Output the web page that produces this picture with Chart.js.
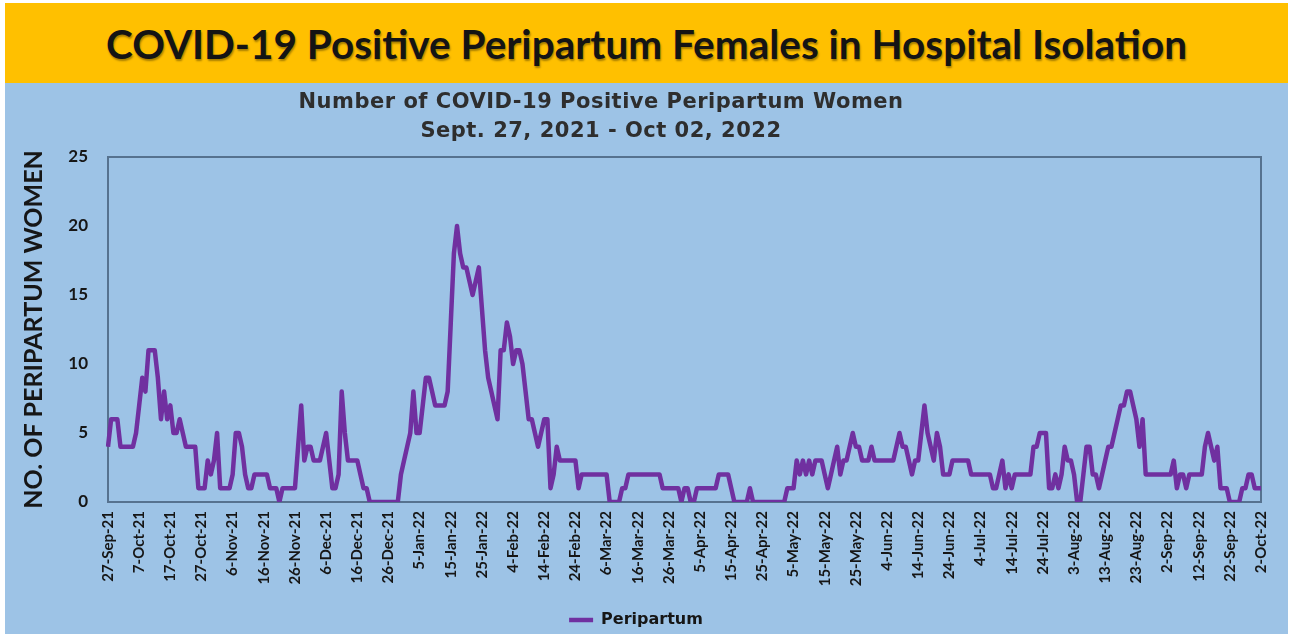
<!DOCTYPE html>
<html>
<head>
<meta charset="utf-8">
<title>COVID-19 Positive Peripartum Females in Hospital Isolation</title>
<script src="https://cdn.jsdelivr.net/npm/chart.js@4.4.1/dist/chart.umd.min.js"></script>
<style>
  html, body { margin: 0; padding: 0; background: #ffffff; width: 1293px; height: 637px; overflow: hidden; font-family: Lato, "Open Sans", sans-serif; }
  #banner { position: absolute; left: 5px; top: 3px; width: 1283px; height: 80px; background: #FFC000; display: flex; align-items: center; justify-content: center; }
  #banner h1 { margin: 0; font-size: 40.5px; font-weight: 700; color: #141414; text-shadow: 1px 2px 2px rgba(0,0,0,0.35); }
  #panel { position: absolute; left: 5px; top: 83px; width: 1283px; height: 551px; background: #9DC3E6; overflow: hidden; }
  #sub { position: absolute; left: 0; top: 4px; width: 1192px; text-align: center; font-family: "DejaVu Sans", Verdana, sans-serif; font-weight: 700; font-size: 21px; letter-spacing: 0.5px; line-height: 29px; color: #2e2e2e; z-index: 2; }
  #chart { position: absolute; left: 0; top: 0; }
</style>
</head>
<body>
<div id="banner"><h1>COVID-19 Positive Peripartum Females in Hospital Isolation</h1></div>
<div id="panel">
  <div id="sub">Number of COVID-19 Positive Peripartum Women<br>Sept. 27, 2021 - Oct 02, 2022</div>
  <canvas id="chart" width="1283" height="556"></canvas>
</div>
<script>
// Daily count of COVID-19 positive peripartum women in isolation, grouped by month
const sep2021 = [4, 6, 6, 6];                                   // 27-30 Sep
const oct2021 = [4,4,4,4,4,5,7,9,8,11, 11,11,9,6,8,6,7,5,5,6, 5,4,4,4,4,1,1,1,3,2, 3];
const nov2021 = [5,1,1,1,1,2,5,5,4,2, 1,1,2,2,2,2,2,1,1,1, 0,1,1,1,1,1,4,7,3,4];
const dec2021 = [4,3,3,3,4,5,3,1,1,2, 8,5,3,3,3,3,2,1,1,0, 0,0,0,0,0,0,0,0,0,2, 3];
const jan2022 = [4,5,8,5,5,7,9,9,8,7, 7,7,7,8,13,18,20,18,17,17, 16,15,16,17,14,11,9,8,7,6, 11];
const feb2022 = [11,13,12,10,11,11,10,8,6,6, 5,4,5,6,6,1,2,4,3,3, 3,3,3,3,1,2,2,2];
const mar2022 = [2,2,2,2,2,2,0,0,0,0, 1,1,2,2,2,2,2,2,2,2, 2,2,2,1,1,1,1,1,1,0, 1];
const apr2022 = [1,0,0,1,1,1,1,1,1,1, 2,2,2,2,1,0,0,0,0,0, 1,0,0,0,0,0,0,0,0,0];
const may2022 = [0,0,1,1,1,3,2,3,2,3, 2,3,3,3,2,1,2,3,4,2, 3,3,4,5,4,4,3,3,3,4, 3];
const jun2022 = [3,3,3,3,3,3,4,5,4,4, 3,2,3,3,5,7,5,4,3,5, 4,2,2,2,3,3,3,3,3,3];
const jul2022 = [2,2,2,2,2,2,2,1,1,2, 3,1,2,1,2,2,2,2,2,2, 4,4,5,5,5,1,1,2,1,2, 4];
const aug2022 = [3,3,2,0,0,2,4,4,2,2, 1,2,3,4,4,5,6,7,7,8, 8,7,6,4,6,2,2,2,2,2, 2];
const sep2022 = [2,2,2,3,1,2,2,1,2,2, 2,2,2,4,5,4,3,4,1,1, 1,0,0,0,0,1,1,2,2,1];
const oct2022 = [1, 1];                                         // 1-2 Oct

const peripartum = [].concat(sep2021, oct2021, nov2021, dec2021, jan2022, feb2022,
  mar2022, apr2022, may2022, jun2022, jul2022, aug2022, sep2022, oct2022);

// Category labels: one per day starting 27 Sep 2021, shown every 10th day
const startDate = { year: 2021, month: 8, day: 27 };
const monthNames = ['Jan','Feb','Mar','Apr','May','Jun','Jul','Aug','Sep','Oct','Nov','Dec'];
const tickEvery = 10;
const dayLabels = peripartum.map((_, i) => {
  const d = new Date(Date.UTC(startDate.year, startDate.month, startDate.day + i));
  return d.getUTCDate() + '-' + monthNames[d.getUTCMonth()] + '-' + String(d.getUTCFullYear()).slice(2);
});
const yTicks = [0, 5, 10, 15, 20, 25];

const ink = '#161616';
const fontFamily = 'Lato, "Open Sans", sans-serif';
const legendFamily = '"DejaVu Sans", Verdana, sans-serif';

// Dark frame around the plotting area, drawn beneath the line
const framePlugin = {
  id: 'frame',
  beforeDatasetsDraw(chart) {
    const { ctx, chartArea: a } = chart;
    ctx.save();
    ctx.strokeStyle = '#56728F';
    ctx.lineWidth = 2;
    ctx.strokeRect(a.left, a.top, a.right - a.left, a.bottom - a.top);
    ctx.restore();
  }
};

new Chart(document.getElementById('chart'), {
  type: 'line',
  data: {
    labels: dayLabels,
    datasets: [{
      label: 'Peripartum',
      data: peripartum,
      borderColor: '#7030A0',
      backgroundColor: '#7030A0',
      borderWidth: 4.5,
      pointRadius: 0,
      tension: 0,
      fill: false,
      borderJoinStyle: 'round'
    }]
  },
  options: {
    responsive: false,
    animation: false,
    layout: { padding: { top: 74, right: 21, left: 0, bottom: 1 } },
    plugins: {
      title: { display: false },
      tooltip: { enabled: false },
      legend: {
        position: 'bottom',
        labels: {
          usePointStyle: true,
          pointStyle: 'line',
          pointStyleWidth: 24,
          color: ink,
          padding: 10,
          font: { family: legendFamily, size: 16, weight: 'bold' }
        }
      }
    },
    scales: {
      x: {
        type: 'category',
        grid: { display: false, drawTicks: false },
        border: { display: false },
        afterFit(scale) { scale.height = 100; },
        ticks: {
          autoSkip: false,
          maxRotation: 90,
          minRotation: 90,
          padding: 9,
          color: ink,
          font: { family: fontFamily, size: 15, weight: 'bold' },
          callback(value, index) { return index % tickEvery === 0 ? dayLabels[index] : null; }
        }
      },
      y: {
        min: yTicks[0],
        max: yTicks[yTicks.length - 1],
        grid: { display: false, drawTicks: false },
        border: { display: false },
        afterFit(scale) { scale.width = 103; },
        ticks: {
          stepSize: 5,
          padding: 20,
          color: ink,
          font: { family: fontFamily, size: 17, weight: 'bold' }
        },
        title: {
          display: true,
          text: 'NO. OF PERIPARTUM WOMEN',
          color: ink,
          padding: { top: 14, bottom: 0 },
          font: { family: fontFamily, size: 25, weight: 'bold' }
        }
      }
    }
  },
  plugins: [framePlugin]
});
</script>
</body>
</html>
